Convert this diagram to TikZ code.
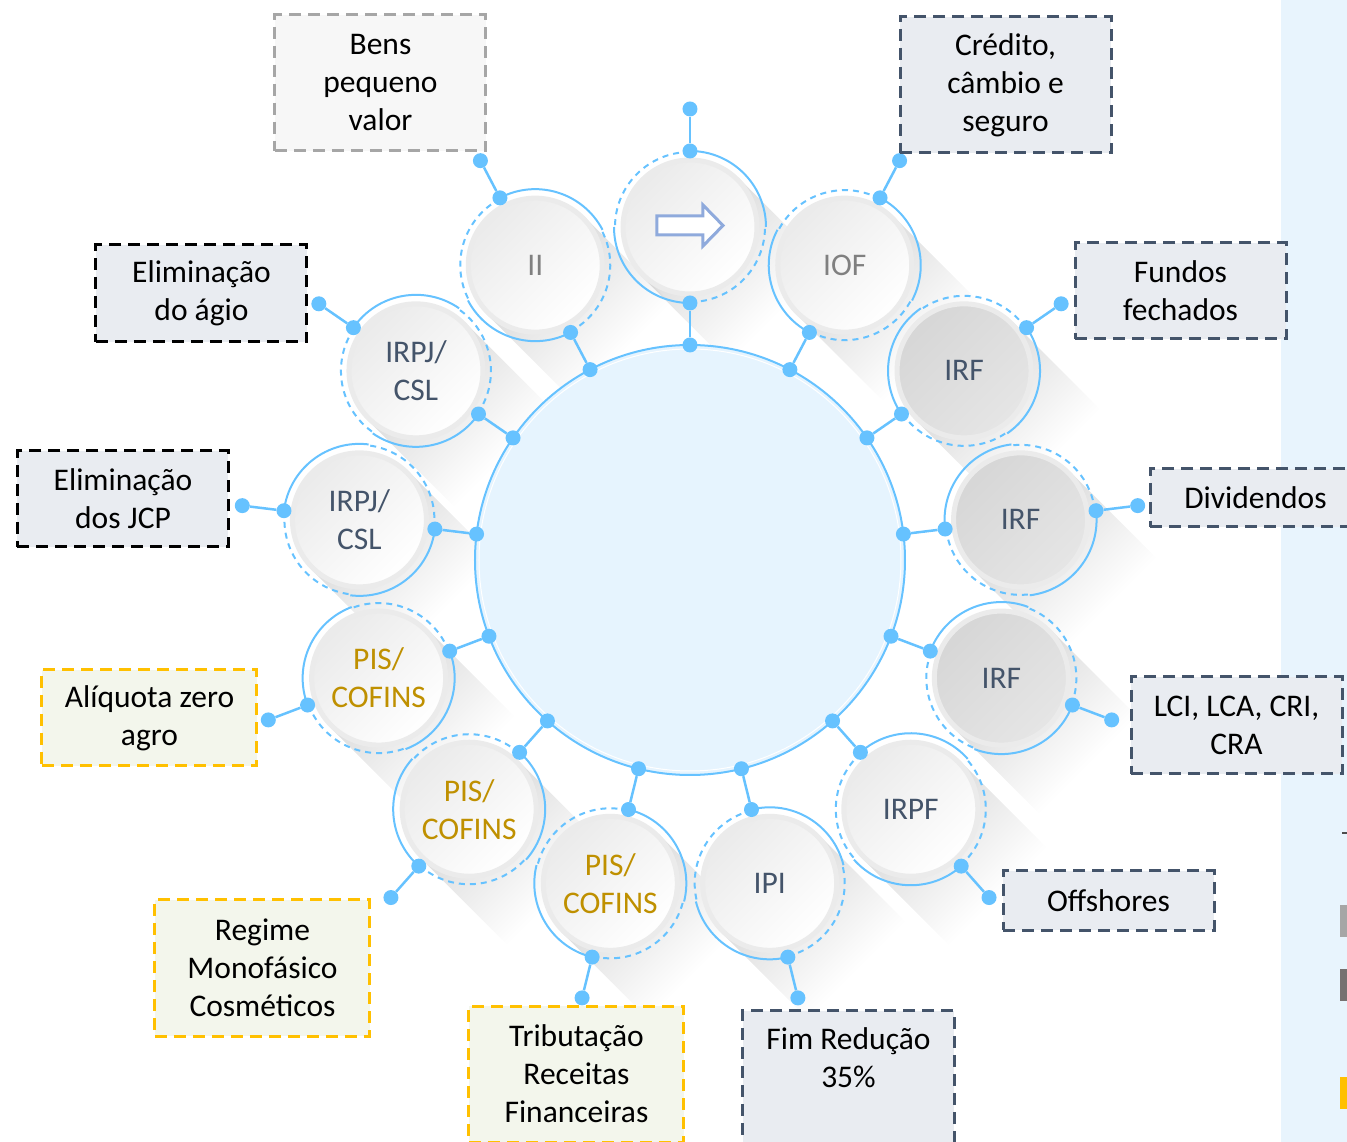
\documentclass[tikz,border=0pt]{standalone}
\usepackage{fontspec}
\setmainfont{Carlito}
\usepackage{tikz}
\usetikzlibrary{positioning, calc}

\definecolor{ringblue}{HTML}{66C2FF}
\definecolor{hubfill}{HTML}{E6F4FE}
\definecolor{panelblue}{HTML}{E8F4FD}
\definecolor{slate}{HTML}{44546A}
\definecolor{gold}{HTML}{BF9000}
\definecolor{amber}{HTML}{FFC000}
\definecolor{tagfill}{HTML}{E9ECF1}
\definecolor{agrofill}{HTML}{F3F6EC}
\definecolor{arrowblue}{HTML}{8FAADC}
\definecolor{legdark}{HTML}{767171}

\pgfdeclarehorizontalshading{longfade}{100bp}{color(0bp)=(black!16); color(27bp)=(black!16); color(62bp)=(white); color(100bp)=(white)}

\begin{document}
\begin{tikzpicture}[
    x=1pt, y=1pt,
    every node/.style={font=\fontsize{31.5}{38}\selectfont, align=center},
    hub/.style={circle, draw=ringblue, line width=2pt, fill=hubfill, minimum size=430pt, inner sep=0pt},
    disc/.style={circle, minimum size=134pt, inner sep=0pt, draw=black!8, line width=5pt,
        top color=black!8, bottom color=white, shading angle=45},
    greydisc/.style={disc, top color=black!16, bottom color=black!10, shading angle=45},
    ring/.style={ringblue, line width=2pt},
    dashring/.style={ring, dash pattern=on 6pt off 5pt},
    dot/.style={circle, fill=ringblue, minimum size=15pt, inner sep=0pt},
    spoke/.style={draw=ringblue, line width=2.5pt},
    longshade/.style={shading=longfade, shading angle=-45},
    tag/.style={rectangle, line width=3pt, dash pattern=on 12pt off 7pt, minimum width=211pt},
    greytag/.style={tag, draw=black!35, fill=black!3},
    darktag/.style={tag, draw=black, fill=tagfill},
    slatetag/.style={tag, draw=slate, fill=tagfill},
    ambertag/.style={tag, draw=amber, fill=agrofill, minimum width=215pt}
]
    \useasboundingbox (-690,-582) rectangle (657,560);
    \clip (-690,-582) rectangle (657,560);

    % side panel (cut off)
    \fill[panelblue] (591,-582) rectangle (657,560);
    \draw[black!70, line width=2pt] (652,-273) -- (657,-273);
    \fill[black!35] (650,-345) rectangle (657,-377);
    \fill[legdark] (650,-409) rectangle (657,-441);
    \fill[amber] (650,-517) rectangle (657,-549);

    % long shadows
    \begin{scope}[blend mode=multiply]
    \foreach \k in {0,...,12} {
        \pgfmathsetmacro{\a}{90+\k*360/13}
        \coordinate (c\k) at (\a:333);
        \shade[longshade] ($(c\k)+(45:69)$) -- ($(c\k)+(45:69)+(-45:150)$)
            -- ($(c\k)+(225:69)+(-45:150)$) -- ($(c\k)+(225:69)$) -- cycle;
    }
    \end{scope}

    % hub
    \node[hub] (hub) at (0,0) {};
    \draw[white, line width=1pt] (hub.center) circle[radius=211];

    % rings
    \foreach \k in {0,...,12} {
        \pgfmathsetmacro{\a}{90+\k*360/13}
        \pgfmathsetmacro{\b}{\a-90}
        \pgfmathsetmacro{\c}{\a+90}
        \pgfmathsetmacro{\d}{\a+180}
        \pgfmathsetmacro{\e}{\a+270}
        \draw[ring] (c\k) ++(\b:76) arc[start angle=\b, end angle=\a, radius=76];
        \draw[ring] (c\k) ++(\c:76) arc[start angle=\c, end angle=\d, radius=76];
        \draw[dashring] (c\k) ++(\a:75) arc[start angle=\a, end angle=\c, radius=75];
        \draw[dashring] (c\k) ++(\d:75) arc[start angle=\d, end angle=\e, radius=75];
    }

    % circles
    \node[disc] (arrow) at (c0) {};
    \draw[arrowblue, line width=3pt, fill=white]
        ($(arrow)+(-33,11)$) -- ($(arrow)+(13,11)$) -- ($(arrow)+(13,22)$) -- ($(arrow)+(33,1.5)$)
        -- ($(arrow)+(13,-19)$) -- ($(arrow)+(13,-8)$) -- ($(arrow)+(-33,-8)$) -- cycle;
    \node[disc, text=black!50] (ii) at (c1) {II};
    \node[disc, text=slate] (irpja) at (c2) {IRPJ/\\CSL};
    \node[disc, text=slate] (irpjb) at (c3) {IRPJ/\\CSL};
    \node[disc, text=gold] (pisa) at (c4) {PIS/\\COFINS};
    \node[disc, text=gold] (pisb) at (c5) {PIS/\\COFINS};
    \node[disc, text=gold] (pisc) at (c6) {PIS/\\COFINS};
    \node[disc, text=slate] (ipi) at (c7) {IPI};
    \node[disc, text=slate] (irpf) at (c8) {IRPF};
    \node[greydisc, text=slate] (irfa) at (c9) {IRF};
    \node[greydisc, text=slate] (irfb) at (c10) {IRF};
    \node[greydisc, text=slate] (irfc) at (c11) {IRF};
    \node[disc, text=black!50] (iof) at (c12) {IOF};

    % dots and spokes
    \foreach \k in {0,...,12} {
        \pgfmathsetmacro{\a}{90+\k*360/13}
        \node[dot] (h\k) at (\a:215) {};
        \node[dot] (i\k) at (\a:257) {};
        \node[dot] (o\k) at (\a:409) {};
        \node[dot] (f\k) at (\a:451) {};
        \draw[spoke] (h\k) -- (i\k);
        \draw[spoke] (o\k) -- (f\k);
    }

    % tags
    \node[greytag, minimum height=136pt] (bens) at (-309.5,477) {Bens\\pequeno\\valor};
    \node[slatetag, minimum height=136pt] (credito) at (315.5,475) {Crédito,\\câmbio e\\seguro};
    \node[darktag, minimum height=97pt] (agio) at (-488.5,266.5) {Eliminação\\do ágio};
    \node[slatetag, minimum height=96pt] (fundos) at (490.5,269) {Fundos\\fechados};
    \node[darktag, minimum height=96pt] (jcp) at (-567,61) {Eliminação\\dos JCP};
    \node[slatetag, minimum height=58pt] (dividendos) at (565.5,62) {Dividendos};
    \node[ambertag, minimum height=96pt] (agro) at (-540.5,-158) {Alíquota zero\\agro};
    \node[slatetag, minimum height=97pt] (lci) at (546.5,-165.5) {LCI, LCA, CRI,\\CRA};
    \node[ambertag, minimum height=136pt] (regime) at (-427.5,-408) {Regime\\Monofásico\\Cosméticos};
    \node[slatetag, minimum height=59pt] (offshores) at (418.5,-340.5) {Offshores};
    \node[ambertag, minimum height=136pt] (receitas) at (-113.5,-514) {Tributação\\Receitas\\Financeiras};
    \node[slatetag, anchor=north] (reducao) at (158.5,-449) {\rule{0pt}{36pt}Fim Redução\\35\%\\\strut\\\strut};
\end{tikzpicture}
\end{document}
